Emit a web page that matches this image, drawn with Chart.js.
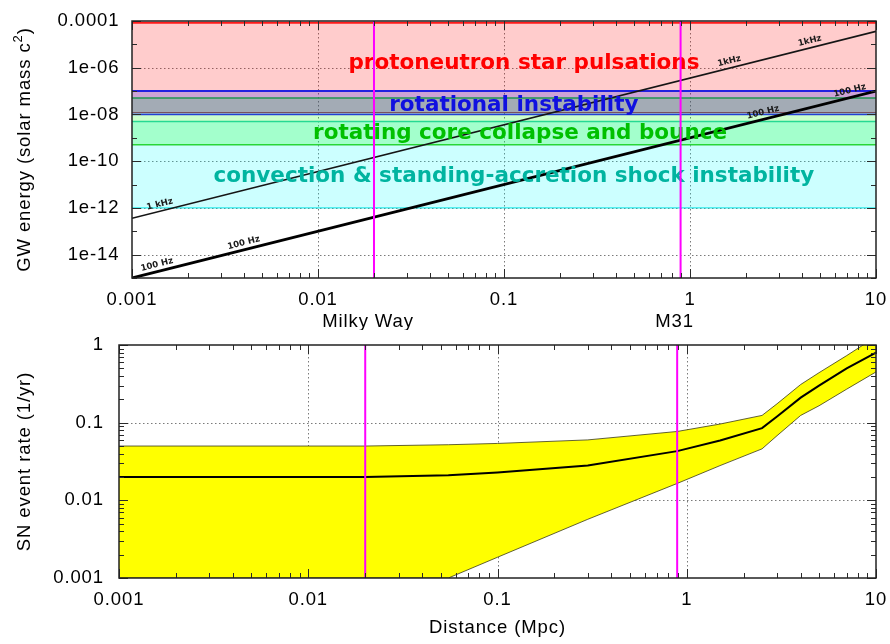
<!DOCTYPE html>
<html>
<head>
<meta charset="utf-8">
<script src="https://cdn.jsdelivr.net/npm/chart.js@4.4.1/dist/chart.umd.min.js"></script>
<style>
  html, body { margin: 0; padding: 0; background: #fff; }
  #wrap { position: relative; width: 890px; height: 644px; }
  #gw { position: absolute; left: 0; top: 0; }
  #sn { position: absolute; left: 0; top: 330px; }
</style>
</head>
<body>
<div id="wrap">
  <canvas id="gw" width="890" height="330"></canvas>
  <canvas id="sn" width="890" height="314"></canvas>
</div>
<script>
// ---------------- data ----------------
// distance axis shared by both panels (Mpc)
const distanceRange = [0.001, 10];
const distTicks = [0.001, 0.01, 0.1, 1, 10];
const distTickLabels = ['0.001', '0.01', '0.1', '1', '10'];

// nearby galaxies
const galaxyNames = ['Milky Way', 'M31'];
const galaxyDistances = [0.02, 0.89];

// emitted GW energy (solar mass c^2)
const gwEnergyRange = [1e-15, 1e-4];
const gwYTicks = [1e-14, 1e-12, 1e-10, 1e-8, 1e-6, 1e-4];
const gwYTickLabels = ['1e-14', '1e-12', '1e-10', '1e-08', '1e-06', '0.0001'];

// emission mechanisms: energy bands
const bandNames = [
  'protoneutron star pulsations',
  'convection & standing-accretion shock instability',
  'rotating core collapse and bounce',
  'rotational instability'
];
const bandLow  = [1.2e-8, 1e-12, 5e-10, 1e-8];
const bandHigh = [8.5e-5, 5e-9,  5e-8,  1e-7];

// detectable energy versus distance at two frequencies
const signalNames = ['1 kHz', '100 Hz'];
const signalDistances = [0.001, 10];
const energy1kHz  = [3.6e-13, 3.6e-5];
const energy100Hz = [1e-15, 1e-7];

// supernova event rate (1/yr)
const rateRange = [0.001, 1];
const rateTicks = [0.001, 0.01, 0.1, 1];
const rateTickLabels = ['0.001', '0.01', '0.1', '1'];
const rateDistances = [0.001, 0.01, 0.02, 0.055, 0.1, 0.3, 0.89, 1.5, 2.5, 3, 4, 5, 7, 10];
const rateHigh = [0.050, 0.050, 0.050, 0.052, 0.054, 0.060, 0.077, 0.096, 0.124, 0.175, 0.31, 0.44, 0.73, 1.28];
const rateMid  = [0.020, 0.020, 0.020, 0.021, 0.0228, 0.028, 0.043, 0.059, 0.085, 0.12, 0.21, 0.30, 0.50, 0.80];
const rateLow  = [0.001, 0.001, 0.001, 0.001, 0.00185, 0.0057, 0.0165, 0.028, 0.046, 0.068, 0.124, 0.165, 0.27, 0.45];

// ---------------- styles ----------------
const AX_FONT = '18.5px "Liberation Sans", Arial, Helvetica, sans-serif';
const SUP_FONT = '13px "Liberation Sans", Arial, Helvetica, sans-serif';
const AX_SP = 0.9;
const BAND_FONT = 'bold 21.5px "DejaVu Sans", Verdana, sans-serif';
const SIG_FONT = 'bold 8.6px "DejaVu Sans", Verdana, sans-serif';

const bandStyles = [
  { rgb: '255,0,0',   edgeHi: '#ff1a1a', edgeLo: '#b03838', wHi: 2,   wLo: 1,   text: '#ff0000', at: [0.128, 9.1e-7] },
  { rgb: '0,255,255', edgeHi: '#30d0b8', edgeLo: '#00e0e0', wHi: 1.5, wLo: 1,   text: '#00b4a0', at: [0.113, 1.23e-11] },
  { rgb: '0,255,0',   edgeHi: '#28b828', edgeLo: '#30d040', wHi: 1.5, wLo: 1.5, text: '#00c000', at: [0.122, 9e-10] },
  { rgb: '0,0,255',   edgeHi: '#2020e0', edgeLo: '#2848d0', wHi: 2,   wLo: 1.5, text: '#1010e0', at: [0.113, 1.37e-8] }
];

// where the frequency tags sit along their lines: [line, distance, text]
const signalLabelSpots = [
  [0, 0.00144, '1 kHz'], [0, 1.66, '1kHz'], [0, 4.5, '1kHz'],
  [1, 0.00139, '100 Hz'], [1, 0.00407, '100 Hz'], [1, 2.52, '100 Hz'], [1, 7.38, '100 Hz']
];

// ---------------- helpers ----------------
const pts = (xs, ys) => xs.map((v, i) => ({ x: v, y: ys[i] }));

function decadeMinors(lo, hi) {
  const out = [];
  for (let e = Math.round(Math.log10(lo)); e < Math.round(Math.log10(hi)); e++) {
    for (let m = 2; m <= 9; m++) out.push(m * Math.pow(10, e));
  }
  return out;
}

function logInterp(xs, ys, xv) {
  const t = (Math.log10(xv) - Math.log10(xs[0])) / (Math.log10(xs[1]) - Math.log10(xs[0]));
  return Math.pow(10, Math.log10(ys[0]) + t * (Math.log10(ys[1]) - Math.log10(ys[0])));
}

function drawText(ctx, s, x, y, o) {
  ctx.save();
  ctx.translate(x, y);
  if (o.rot) ctx.rotate(o.rot);
  ctx.font = o.font;
  ctx.fillStyle = o.color || '#000';
  ctx.textAlign = o.align || 'center';
  ctx.textBaseline = o.baseline || 'middle';
  if ('letterSpacing' in ctx) ctx.letterSpacing = (o.spacing || 0) + 'px';
  ctx.fillText(s, 0, o.dy || 0);
  ctx.restore();
}

function seg(ctx, x1, y1, x2, y2) {
  ctx.beginPath(); ctx.moveTo(x1, y1); ctx.lineTo(x2, y2); ctx.stroke();
}

// border, inward ticks on all four sides, dotted grid, tick labels, titles
function frameAxes(spec) {
  return {
    id: 'frameAxes',
    beforeDraw(chart) {
      const { ctx, chartArea: a } = chart;
      const x = chart.scales.x, y = chart.scales.y;
      spec.textDone = false;
      ctx.save();
      ctx.fillStyle = '#fff';
      ctx.fillRect(0, 0, chart.width, chart.height);
      ctx.strokeStyle = '#7a7a7a';
      ctx.lineWidth = 1;
      ctx.setLineDash([1.5, 2.5]);
      spec.xGrid.forEach(v => { const p = Math.round(x.getPixelForValue(v)) + 0.5; seg(ctx, p, a.top, p, a.bottom); });
      spec.yGrid.forEach(v => { const p = Math.round(y.getPixelForValue(v)) + 0.5; seg(ctx, a.left, p, a.right, p); });
      ctx.restore();
    },
    beforeDatasetDraw(chart, args) {
      const ds = chart.data.datasets[args.index];
      if (ds.marker && !spec.textDone && spec.overlay) {
        spec.textDone = true;
        spec.overlay(chart);
      }
    },
    afterDatasetsDraw(chart) {
      const { ctx, chartArea: a } = chart;
      const x = chart.scales.x, y = chart.scales.y;
      ctx.save();
      ctx.strokeStyle = '#2a2a2a';
      ctx.lineWidth = 1;
      const tick = (list, len) => {
        list.forEach(v => {
          const p = Math.round(x.getPixelForValue(v)) + 0.5;
          seg(ctx, p, a.bottom, p, a.bottom - len);
          seg(ctx, p, a.top, p, a.top + len);
        });
      };
      const ytick = (list, len) => {
        list.forEach(v => {
          const p = Math.round(y.getPixelForValue(v)) + 0.5;
          seg(ctx, a.left, p, a.left + len, p);
          seg(ctx, a.right, p, a.right - len, p);
        });
      };
      tick(spec.xMinor, 5); tick(spec.xMajor, 9);
      ytick(spec.yMinor, 5); ytick(spec.yMajor, 9);
      ctx.lineWidth = 1.5;
      ctx.strokeStyle = '#222';
      ctx.strokeRect(a.left, a.top, a.right - a.left, a.bottom - a.top);
      ctx.restore();

      spec.xMajor.forEach((v, i) => drawText(ctx, spec.xLabels[i], x.getPixelForValue(v), spec.xLabelY,
        { font: AX_FONT, spacing: AX_SP }));
      spec.yMajor.forEach((v, i) => drawText(ctx, spec.yLabels[i], spec.yLabelX, y.getPixelForValue(v),
        { font: AX_FONT, spacing: AX_SP, align: 'right' }));
      if (spec.titles) spec.titles(chart);
    }
  };
}

// ---------------- top panel: GW energy ----------------
const gwSets = [];
bandNames.forEach((name, i) => {
  const s = bandStyles[i];
  gwSets.push({ label: name + ' (lower)', data: pts(distanceRange, [bandLow[i], bandLow[i]]),
    borderColor: s.edgeLo, borderWidth: s.wLo, fill: false, order: 100 - 4 * i });
  gwSets.push({ label: name, data: pts(distanceRange, [bandHigh[i], bandHigh[i]]),
    borderColor: s.edgeHi, borderWidth: s.wHi, fill: '-1',
    backgroundColor: 'rgba(' + s.rgb + ',0.2)', order: 99 - 4 * i });
});
gwSets.push({ label: signalNames[0], data: pts(signalDistances, energy1kHz),
  borderColor: '#151515', borderWidth: 1.6, fill: false, order: 20 });
gwSets.push({ label: signalNames[1], data: pts(signalDistances, energy100Hz),
  borderColor: '#000', borderWidth: 2.8, fill: false, order: 19 });
galaxyDistances.forEach((d, i) => {
  gwSets.push({ label: galaxyNames[i], marker: true, data: pts([d, d], gwEnergyRange),
    borderColor: '#ff00ff', borderWidth: 2, fill: false, order: 1 });
});

const gwSpec = {
  xMajor: distTicks, xLabels: distTickLabels, xMinor: decadeMinors(distanceRange[0], distanceRange[1]),
  xGrid: [0.01, 0.1, 1],
  yMajor: gwYTicks, yLabels: gwYTickLabels,
  yMinor: [1e-15, 1e-13, 1e-11, 1e-9, 1e-7, 1e-5],
  yGrid: [1e-14, 1e-12, 1e-10, 1e-8, 1e-6],
  xLabelY: 300, yLabelX: 119.5,
  overlay(chart) {
    const ctx = chart.ctx, x = chart.scales.x, y = chart.scales.y;
    bandNames.forEach((name, i) => {
      const s = bandStyles[i];
      drawText(ctx, name, x.getPixelForValue(s.at[0]), y.getPixelForValue(s.at[1]),
        { font: BAND_FONT, color: s.text, baseline: 'alphabetic' });
    });
    const series = [energy1kHz, energy100Hz];
    signalLabelSpots.forEach(([k, d, txt]) => {
      const e = series[k];
      const x0 = x.getPixelForValue(signalDistances[0]), y0 = y.getPixelForValue(e[0]);
      const x1 = x.getPixelForValue(signalDistances[1]), y1 = y.getPixelForValue(e[1]);
      const ang = Math.atan2(y1 - y0, x1 - x0);
      drawText(ctx, txt, x.getPixelForValue(d), y.getPixelForValue(logInterp(signalDistances, e, d)),
        { font: SIG_FONT, color: '#1a1a1a', rot: ang, baseline: 'bottom', dy: -2.5 });
    });
  },
  titles(chart) {
    const ctx = chart.ctx, a = chart.chartArea, x = chart.scales.x;
    galaxyDistances.forEach((d, i) => drawText(ctx, galaxyNames[i], x.getPixelForValue(d) - 6, 321.5,
      { font: AX_FONT, spacing: AX_SP }));
    // rotated y title with superscript
    ctx.save();
    ctx.translate(25, (a.top + a.bottom) / 2);
    ctx.rotate(-Math.PI / 2);
    ctx.fillStyle = '#000';
    ctx.textBaseline = 'middle';
    ctx.textAlign = 'left';
    if ('letterSpacing' in ctx) ctx.letterSpacing = AX_SP + 'px';
    const t1 = 'GW energy (solar mass c', t2 = '2', t3 = ')';
    ctx.font = AX_FONT; const w1 = ctx.measureText(t1).width, w3 = ctx.measureText(t3).width;
    ctx.font = SUP_FONT; const w2 = ctx.measureText(t2).width;
    const start = -(w1 + w2 + w3) / 2;
    ctx.font = AX_FONT; ctx.fillText(t1, start, 0);
    ctx.font = SUP_FONT; ctx.fillText(t2, start + w1, -7);
    ctx.font = AX_FONT; ctx.fillText(t3, start + w1 + w2, 0);
    ctx.restore();
  }
};

const commonOpts = (pad, xr, yr) => ({
  responsive: false,
  maintainAspectRatio: false,
  animation: false,
  events: [],
  layout: { padding: pad },
  elements: { point: { radius: 0 }, line: { tension: 0 } },
  plugins: { legend: { display: false }, tooltip: { enabled: false } },
  scales: {
    x: { type: 'logarithmic', min: xr[0], max: xr[1], display: false },
    y: { type: 'logarithmic', min: yr[0], max: yr[1], display: false }
  }
});

new Chart(document.getElementById('gw'), {
  type: 'line',
  data: { datasets: gwSets },
  options: commonOpts({ left: 132, right: 14, top: 21, bottom: 52 }, distanceRange, gwEnergyRange),
  plugins: [frameAxes(gwSpec)]
});

// ---------------- bottom panel: SN event rate ----------------
const snSets = [
  { label: 'rate (lower)', data: pts(rateDistances, rateLow), borderColor: '#3a3a18', borderWidth: 0.8, fill: false, order: 10 },
  { label: 'rate (upper)', data: pts(rateDistances, rateHigh), borderColor: '#3a3a18', borderWidth: 0.8, fill: '-1',
    backgroundColor: '#ffff00', order: 9 },
  { label: 'SN event rate', data: pts(rateDistances, rateMid), borderColor: '#000', borderWidth: 2, fill: false, order: 5 }
];
galaxyDistances.forEach((d, i) => {
  snSets.push({ label: galaxyNames[i], marker: true, data: pts([d, d], rateRange),
    borderColor: '#ff00ff', borderWidth: 2, fill: false, order: 1 });
});

const snSpec = {
  xMajor: distTicks, xLabels: distTickLabels, xMinor: decadeMinors(distanceRange[0], distanceRange[1]),
  xGrid: [0.01, 0.1, 1],
  yMajor: rateTicks, yLabels: rateTickLabels, yMinor: decadeMinors(rateRange[0], rateRange[1]),
  yGrid: [0.01, 0.1],
  xLabelY: 270, yLabelX: 104,
  titles(chart) {
    const ctx = chart.ctx, a = chart.chartArea;
    drawText(ctx, 'Distance (Mpc)', (a.left + a.right) / 2, 298, { font: AX_FONT, spacing: AX_SP });
    drawText(ctx, 'SN event rate (1/yr)', 25, (a.top + a.bottom) / 2,
      { font: AX_FONT, spacing: AX_SP, rot: -Math.PI / 2 });
  }
};

const snOpts = commonOpts({ left: 119, right: 14, top: 15, bottom: 66 }, distanceRange, rateRange);
snOpts.plugins.filler = { drawTime: 'beforeDatasetsDraw' };

new Chart(document.getElementById('sn'), {
  type: 'line',
  data: { datasets: snSets },
  options: snOpts,
  plugins: [frameAxes(snSpec)]
});
</script>
</body>
</html>
